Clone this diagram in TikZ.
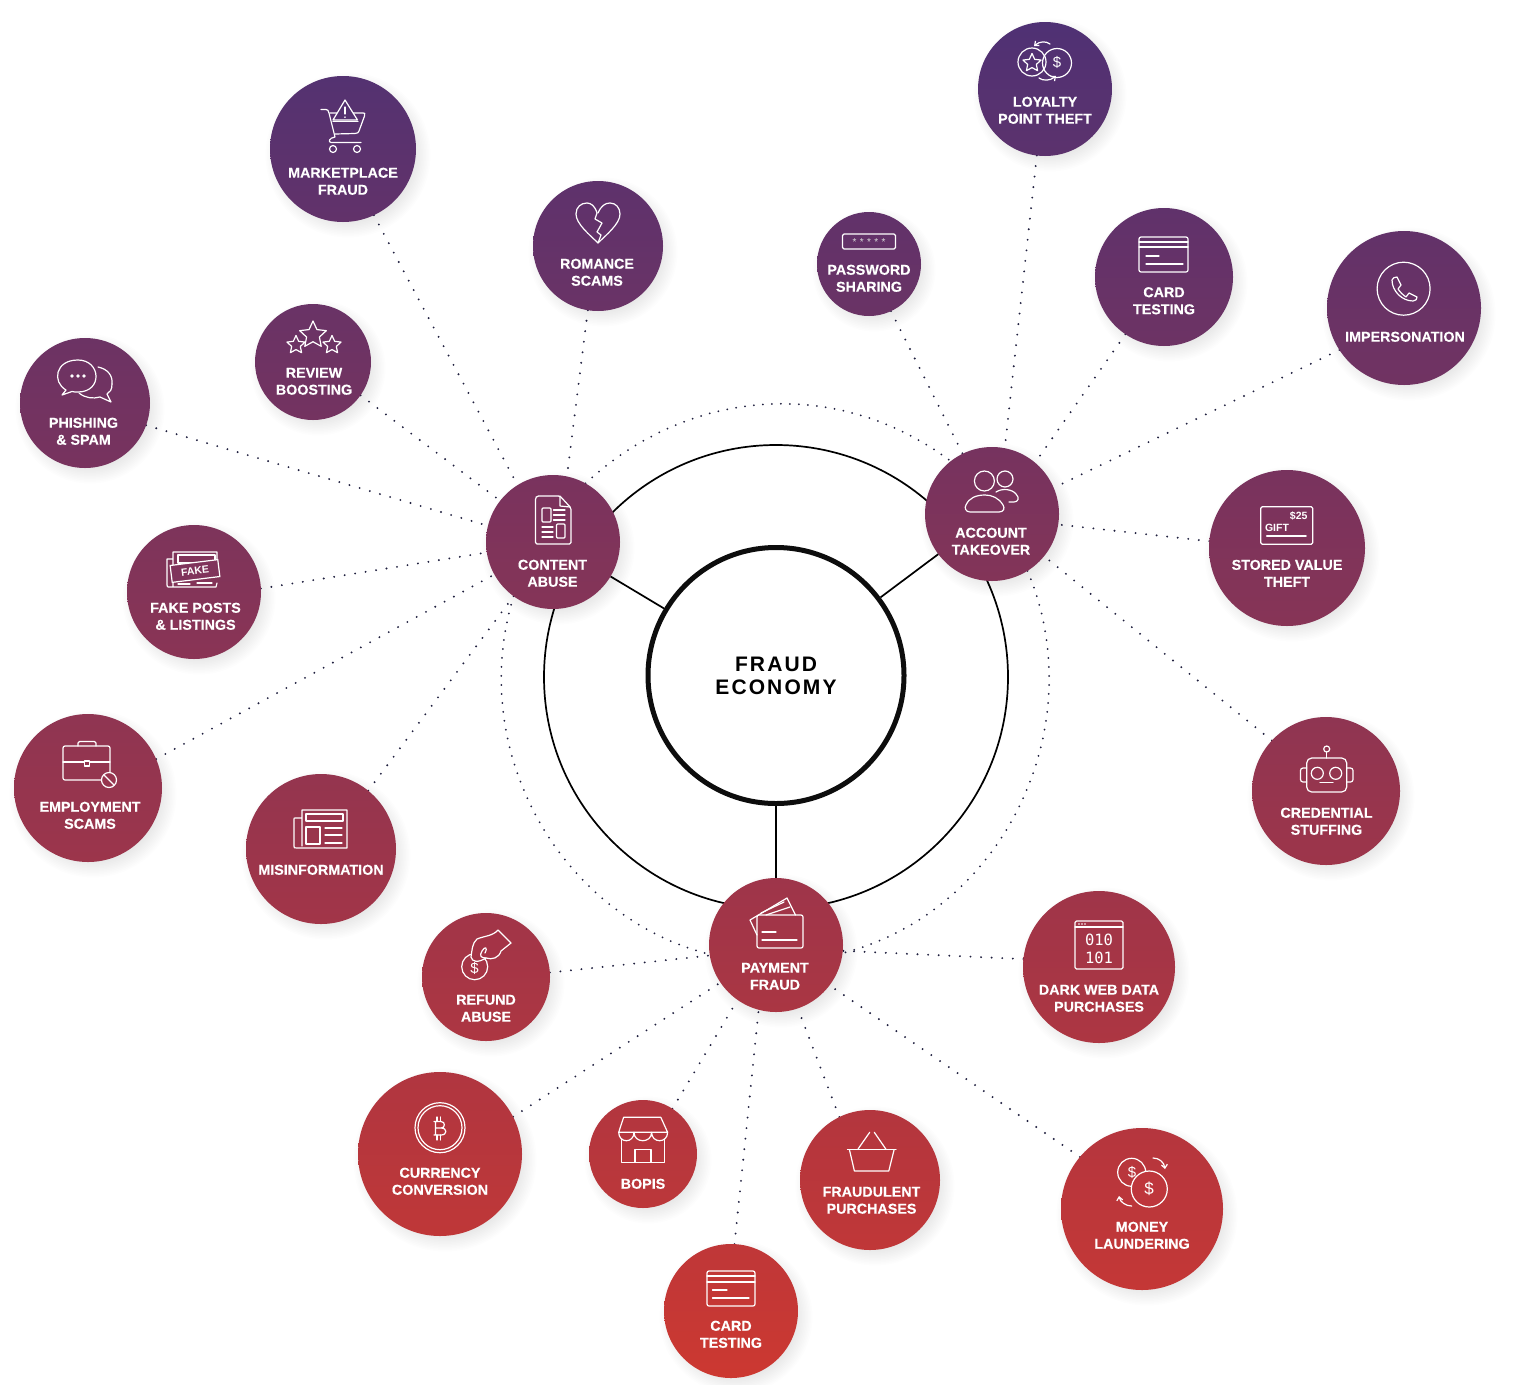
\documentclass[tikz,border=0pt]{standalone}
\usepackage{fontspec}
\setmainfont{Liberation Sans}
\newfontfamily\hubfont[LetterSpace=10]{Liberation Sans}
\newfontfamily\lblfont[UprightFont=* Bold,FakeBold=0.25]{Liberation Sans}
\newfontfamily\monofnt{DejaVu Sans Mono}
\usetikzlibrary{backgrounds,arrows.meta}
\definecolor{dotc}{HTML}{20203F}
\tikzset{
  bubble/.style={circle,inner sep=0pt,outer sep=0pt,shading=axis,shading angle=0},
  lbl/.style={text=white,align=center,inner sep=0pt,font=\lblfont\fontsize{14.3}{17}\selectfont},
  hubnode/.style={circle,draw=black!95,line width=5pt,fill=white,minimum size=256pt,inner sep=0pt,align=center,
     font=\hubfont\bfseries\fontsize{21}{23}\selectfont},
  dotline/.style={draw=dotc,line width=2.1pt,line cap=round,dash pattern=on 0pt off 10.6pt},
  dotarc/.style={draw=dotc,line width=2pt,line cap=round,dash pattern=on 0pt off 9pt},
  solidlink/.style={draw=black,line width=1.7pt},
  ic/.style={draw=white,line width=1.2pt,line join=round,line cap=round},
  icfill/.style={ic,fill=#1},
  dollar/.style={text=white,inner sep=0pt,font=\fontsize{15}{15}\selectfont},
  arrowic/.style={ic,-{Straight Barb[length=3.5pt,width=6pt]}},
}
\newcommand\bub[4]{%
  \pgfmathsetmacro\ttop{(#3-#4-25)/1350}%
  \pgfmathsetmacro\tbot{(#3+#4-25)/1350}%
  \pgfmathtruncatemacro\ra{80+124*\ttop}%
  \pgfmathtruncatemacro\ga{50+6*\ttop}%
  \pgfmathtruncatemacro\ba{116-66*\ttop}%
  \pgfmathtruncatemacro\rb{80+124*\tbot}%
  \pgfmathtruncatemacro\gb{50+6*\tbot}%
  \pgfmathtruncatemacro\bb{116-66*\tbot}%
  \definecolor{gtop}{RGB}{\ra,\ga,\ba}%
  \definecolor{gbot}{RGB}{\rb,\gb,\bb}%
  \foreach \i in {1,...,14}{\fill[black,opacity=.0095] ({#2+5},{#3+6}) circle[radius={(#4+11-1.5*\i)*1pt}];}%
  \node[bubble,minimum size={2pt*#4},top color=gtop,bottom color=gbot] (#1) at (#2,#3) {};%
}
\newcommand\icstar[3]{%
  \draw[ic] plot[samples at={0,...,9},variable=\k] ({#1+(mod(\k,2)==0?#3:#3*.48)*sin(36*\k)},{#2-(mod(\k,2)==0?#3:#3*.48)*cos(36*\k)}) -- cycle;%
}
\newcommand\dlink[4]{\draw[dotline] (#1.#2) -- (#3.#4);}
\newcommand\lab[4]{\node[lbl] (#1) at (#2,#3+.8) {#4};}
\begin{document}
\begin{tikzpicture}[x=1pt,y=-1pt]
\useasboundingbox (0,0) rectangle (1536,1384);
% bubbles
\node[hubnode] (hub) at (776,675.5) {FRAUD\\[0pt]ECONOMY};
\bub{mkt}{343}{149}{73}
\bub{rom}{598}{246}{65}
\bub{pwd}{869}{264}{52}
\bub{loy}{1045}{89}{67}
\bub{cardA}{1164}{277}{69}
\bub{imp}{1404}{308}{77}
\bub{rev}{313}{362}{58}
\bub{phi}{85}{403}{65}
\bub{fak}{194}{592}{67}
\bub{emp}{88}{788}{74}
\bub{mis}{321}{849}{75}
\bub{cnt}{553}{542}{67}
\bub{acc}{992}{514}{67}
\bub{sto}{1287}{548}{78}
\bub{cre}{1326}{791}{74}
\bub{pay}{776}{945}{67}
\bub{ref}{486}{977}{64}
\bub{dark}{1099}{967}{76}
\bub{cur}{440}{1154}{82}
\bub{bop}{643}{1154}{54}
\bub{fra}{870}{1180}{70}
\bub{cardB}{731}{1311}{67}
\bub{mon}{1142}{1209}{81}
% connectors
\begin{pgfonlayer}{background}
\fill[white] (0,0) rectangle (1536,1384);
\coordinate (ringc) at (776,677);
\draw[solidlink] (ringc) circle[radius=232pt];
\draw[solidlink] (hub) -- (cnt);
\draw[solidlink] (hub) -- (acc);
\draw[solidlink] (hub) -- (pay);
\draw[dotarc] (cnt.61) to[out=43,in=143,looseness=.987] (acc.128.5);
\draw[dotarc] (cnt.234) to[out=252.8,in=165.6,looseness=.99] (pay.188);
\draw[dotarc] (acc.-58) to[out=-67.1,in=14.4,looseness=1.01] (pay.-7.7);
\dlink{mkt}{-65.6}{cnt}{122}
\dlink{rom}{-99}{cnt}{78.7}
\dlink{rev}{-35}{cnt}{142}
\dlink{phi}{-20.7}{cnt}{166}
\dlink{fak}{3.4}{cnt}{189}
\dlink{emp}{23.3}{cnt}{209.7}
\dlink{mis}{51.4}{cnt}{234.7}
\dlink{pwd}{-65.2}{acc}{116.9}
\dlink{loy}{-97.6}{acc}{79.3}
\dlink{cardA}{-124}{acc}{50.9}
\dlink{imp}{-147.9}{acc}{23.1}
\dlink{sto}{175.7}{acc}{-9.2}
\dlink{cre}{137.6}{acc}{-39.4}
\dlink{ref}{4.2}{pay}{189.9}
\dlink{cur}{27.2}{pay}{214.1}
\dlink{bop}{57.6}{pay}{235.3}
\dlink{cardB}{87}{pay}{255.8}
\dlink{fra}{116.2}{pay}{-71.8}
\dlink{mon}{140}{pay}{-37.5}
\dlink{dark}{174}{pay}{-5.6}
\end{pgfonlayer}
% labels
\lab{mktT}{343}{180.5}{MARKETPLACE\\FRAUD}
\lab{romT}{597}{271.5}{ROMANCE\\SCAMS}
\lab{pwdT}{869}{277.5}{PASSWORD\\SHARING}
\lab{loyT}{1045}{109.5}{LOYALTY\\POINT THEFT}
\lab{cardAT}{1164}{300}{CARD\\TESTING}
\lab{impT}{1405}{336}{IMPERSONATION}
\lab{revT}{314}{380.5}{REVIEW\\BOOSTING}
\lab{phiT}{83.5}{430.5}{PHISHING\\\& SPAM}
\lab{fakT}{195.5}{615.5}{FAKE POSTS\\\& LISTINGS}
\lab{empT}{90}{814.5}{EMPLOYMENT\\SCAMS}
\lab{misT}{321}{869}{MISINFORMATION}
\lab{cntT}{552.5}{572.5}{CONTENT\\ABUSE}
\lab{accT}{991}{540.5}{ACCOUNT\\TAKEOVER}
\lab{stoT}{1287}{572.5}{STORED VALUE\\THEFT}
\lab{creT}{1326.5}{820.5}{CREDENTIAL\\STUFFING}
\lab{payT}{775}{975.5}{PAYMENT\\FRAUD}
\lab{refT}{486}{1007.5}{REFUND\\ABUSE}
\lab{darkT}{1099}{997.5}{DARK WEB DATA\\PURCHASES}
\lab{curT}{440}{1180.5}{CURRENCY\\CONVERSION}
\lab{bopT}{643}{1183}{BOPIS}
\lab{fraT}{871.5}{1199.5}{FRAUDULENT\\PURCHASES}
\lab{cardBT}{731}{1333.5}{CARD\\TESTING}
\lab{monT}{1142}{1234.5}{MONEY\\LAUNDERING}
% --- icons (absolute picture coordinates)
% cart
\draw[ic] (321,109.5) -- (326,109.5) .. controls (328,110) .. (329,113) -- (335,137) .. controls (329,138) and (328,142) .. (331,142.5) -- (361,142.5);
\draw[ic] (330,113) -- (363,113) .. controls (365,113) .. (364.5,116) -- (359,131) .. controls (358,133) .. (355,133.5) -- (335,134);
\draw[ic] (333,149) circle[radius=3.5pt] (357,149) circle[radius=3.5pt];
\definecolor{mkc}{RGB}{84,50,112}
\draw[icfill=mkc] (345,100) -- (357.5,120) -- (333,120) -- cycle;
\draw[ic] (345,107) -- (345,114) (345,117) -- (345,117.3);
\draw[ic] (333,121.5) -- (358,121.5);
% heart
\draw[ic] (598,243) .. controls (590,235) and (576,224) .. (576,214) .. controls (576,207) and (581,203) .. (587,203) .. controls (591,203) and (595,206) .. (597,213) -- (595,219) -- (602,223) -- (597,232) -- (601,235) -- (598,243);
\draw[ic] (598,213) .. controls (601,206) and (605,203) .. (610,203) .. controls (616,203) and (620,208) .. (620,214) .. controls (620,224) and (606,235) .. (598,243);
% password
\draw[ic,rounded corners=1.5pt] (842.5,234) rectangle (895.5,249);
\node[text=white!85!black,inner sep=0pt,font=\fontsize{10}{10}\selectfont] (pwdStars) at (869,241.8) {*\,\,*\,\,*\,\,*\,\,*};
% loyalty
\draw[ic] (1032,62) circle[radius=14pt];
\draw[ic] (1057,63) circle[radius=14.5pt];
\icstar{1032}{63}{9.5}
\node[dollar] (loyD) at (1057,62.5) {\$};
\draw[arrowic] (1050,44) .. controls (1046,41) and (1040,41) .. (1034,46);
\draw[arrowic] (1039,78) .. controls (1043,81) and (1050,81) .. (1056,76);
% card A
\draw[ic,rounded corners=2pt] (1139,237) rectangle (1188,272);
\draw[ic] (1139,242) -- (1188,242) (1139,247) -- (1188,247) (1146,256) -- (1159,256) (1146,264) -- (1183,264);
% impersonation
\draw[ic] (1403.6,288.7) circle[radius=26.5pt];
\draw[ic] (1392,280) .. controls (1392,278) and (1395,277) .. (1397,277) -- (1401,285) -- (1398,289) .. controls (1400,292) and (1403,295) .. (1406,297) -- (1409,293) -- (1417,297) .. controls (1417,299) and (1416,301) .. (1413,301) .. controls (1402,301) and (1392,291) .. (1392,280) -- cycle;
% review
\icstar{313}{335}{14}
\icstar{296}{345}{9.5}
\icstar{332}{345}{9.5}
% phishing
\draw[ic] (112,384) .. controls (113,376) and (108,369) .. (98,367);
\draw[ic] (112,384) .. controls (112,390) and (110,392) .. (107,394) -- (111,402) -- (100,397) .. controls (93,399) and (85,398) .. (79,393);
\draw[ic] (66,390) .. controls (52,382) and (55,360) .. (78,360) .. controls (101,360) and (103,392) .. (78,392) .. controls (75,392) and (74,392) .. (72,391.5) -- (62,395) -- cycle;
\fill[white] (72,376) circle[radius=1.8pt] (78,376) circle[radius=1.8pt] (84,376) circle[radius=1.8pt];
% fake
\draw[ic] (173,559) -- (167,559) -- (167,585) .. controls (167,587) .. (171,587) -- (216,587) -- (217,583) (217,563) -- (217,552) -- (173,552) -- (173,587);
\draw[ic] (178,555) rectangle (215,563);
\draw[ic] (178,584) -- (190,584) (197,583) -- (212,583);
\definecolor{fkc}{RGB}{128,52,92}
\node[draw=white,line width=1.2pt,fill=fkc,rotate=7,minimum width=48pt,minimum height=17pt,inner sep=0pt,text=white,font=\bfseries\fontsize{10.5}{10.5}\selectfont] (fakW) at (195,571) {FAKE};
% employment
\draw[ic,rounded corners=2pt] (63,746) rectangle (110,780);
\draw[ic,rounded corners=1.5pt] (78,746) -- (78,741.5) -- (96,741.5) -- (96,746);
\draw[ic] (63,762) -- (84.5,762) (89.5,762) -- (110,762);
\draw[ic] (84.5,761) rectangle (89.5,766);
\definecolor{emc}{RGB}{150,52,78}
\draw[icfill=emc] (109,780) circle[radius=7.5pt];
\draw[ic] (104,775) -- (114,785);
% misinformation
\draw[ic] (302,818) -- (295,818) .. controls (294,818) .. (294,820) -- (294,846) .. controls (294,848) .. (297,848) -- (347,848) -- (347,810) -- (302,810) -- (302,846);
\draw[ic] (306,814) rectangle (343,821);
\draw[ic] (306,827) rectangle (320,844);
\draw[ic] (325,828) -- (342,828) (325,835) -- (342,835) (325,843) -- (342,843);
% content
\draw[ic,rounded corners=1.5pt] (560,496) -- (537,496) -- (535.5,498) -- (535.5,544) -- (571,544) -- (571,508) -- cycle;
\draw[ic] (560,496) -- (560,506) -- (570,507);
\draw[ic,rounded corners=1pt] (542,508) rectangle (551,522);
\draw[ic] (553.5,510) -- (565,510) (553.5,515) -- (565,515) (553.5,520) -- (565,520);
\draw[ic] (542,527) -- (553,527) (542,532) -- (553,532) (542,537) -- (553,537);
\draw[ic,rounded corners=1pt] (556.5,524) rectangle (565,538);
% account
\draw[ic] (984.4,481) circle[radius=10pt];
\draw[ic] (1005,479) circle[radius=8pt];
\draw[ic] (970,512) -- (999,512) .. controls (1004,512) and (1005,508) .. (1003,505) .. controls (999,498) and (992,495) .. (985,495) .. controls (976,495) and (969,498) .. (966,505) .. controls (964,508) and (966,512) .. (970,512) -- cycle;
\draw[ic] (996,492) .. controls (1002,488) and (1012,489) .. (1016,494) .. controls (1020,498) and (1018,502) .. (1014,502) -- (1009,502);
% stored
\draw[ic,rounded corners=1.5pt] (1260.7,506.7) rectangle (1312.7,544.3);
\node[text=white,inner sep=0pt,font=\bfseries\fontsize{10.5}{10.5}\selectfont] (stoAmt) at (1298.7,516) {\$25};
\node[text=white,inner sep=0pt,font=\bfseries\fontsize{10.5}{10.5}\selectfont] (stoGift) at (1277,528) {GIFT};
\draw[ic,line width=1.6pt] (1266.7,536) -- (1306,536);
% robot
\draw[ic] (1326.7,749) circle[radius=3pt];
\draw[ic] (1326.7,752) -- (1326.7,758);
\draw[ic,rounded corners=5pt] (1306.7,758) rectangle (1346.7,792);
\draw[ic,rounded corners=2.5pt] (1306.7,768) -- (1300.5,768) -- (1300.5,782) -- (1306.7,782);
\draw[ic,rounded corners=2.5pt] (1346.7,768) -- (1353,768) -- (1353,782) -- (1346.7,782);
\draw[ic] (1317.3,773.3) circle[radius=6pt] (1335.7,773.3) circle[radius=6pt];
\draw[ic] (1320,782.7) -- (1333,782.7);
% refund
\draw[ic] (474.7,966.7) circle[radius=13pt];
\node[dollar] (refD) at (474.5,968) {\$};
\definecolor{rfc}{RGB}{164,51,70}
\draw[icfill=rfc] (498,930) .. controls (493,936) and (484,936) .. (477,939) .. controls (472,943) and (472,951) .. (471,957) .. controls (472,962) and (478,963) .. (486,958) .. controls (492,960) and (499,958) .. (501,951) -- (511,943) -- cycle;
\draw[ic] (486,958) .. controls (481,958) and (479,956) .. (482,951) .. controls (485,946) and (488,947) .. (485,953);
% payment
\draw[ic] (757,935) -- (750,920) -- (787,898) -- (795.5,915);
\draw[ic] (761,913) -- (784,902) (766,915) -- (790,907);
\draw[ic,rounded corners=2pt] (757,915) rectangle (803,948);
\draw[ic] (762,932) -- (776,932) (762,940) -- (797,940);
% dark web
\draw[ic,rounded corners=1.5pt] (1075,921) rectangle (1123,969);
\draw[ic] (1075,927) -- (1123,927);
\fill[white] (1079,924) circle[radius=.8pt] (1082,924) circle[radius=.8pt] (1085,924) circle[radius=.8pt];
\node[text=white,inner sep=0pt,align=center,font=\monofnt\fontsize{15.5}{17.5}\selectfont] (darkBin) at (1099,949) {010\\101};
% currency
\draw[ic] (440,1127.7) circle[radius=25pt] (440,1127.7) circle[radius=22pt];
\draw[ic] (434,1121.5) -- (441,1121.5) .. controls (445.5,1121.5) and (445.5,1128) .. (441,1128) -- (435.5,1128) (441,1128) .. controls (447.5,1128) and (447.5,1135) .. (441,1135) -- (434,1135) (435.5,1121.5) -- (435.5,1135);
\draw[ic] (437,1117) -- (437,1121.5) (440.5,1117) -- (440.5,1121.5) (437,1135) -- (437,1140) (440.5,1135) -- (440.5,1140);
% bopis
\draw[ic] (623.6,1117.3) -- (660.8,1117.3) -- (667.6,1132.3) -- (618.7,1132.3) -- cycle;
\draw[ic] (618.7,1132.3) .. controls (618.7,1143.5) and (634,1143.5) .. (634,1132.3) .. controls (634,1143.5) and (651.6,1143.5) .. (651.6,1132.3) .. controls (651.6,1143.5) and (667.6,1143.5) .. (667.6,1132.3);
\draw[ic] (621.7,1139) -- (621.7,1162.3) -- (664.6,1162.3) -- (664.6,1139);
\draw[ic] (635,1162.3) -- (635,1149.3) -- (651,1149.3) -- (651,1162.3);
% basket
\draw[ic] (847.5,1149.3) -- (896,1149.3);
\draw[ic] (849.5,1150) -- (854.4,1171) -- (888.8,1171) -- (894,1150);
\draw[ic] (858,1149) -- (869.7,1132.3) (874.3,1132.3) -- (885.8,1149);
% card B
\draw[ic,rounded corners=2pt] (707,1271) rectangle (755,1306);
\draw[ic] (707,1276) -- (755,1276) (707,1282) -- (755,1282) (712.5,1290) -- (727,1290) (712.5,1298) -- (749,1298);
% money
\draw[ic] (1131.7,1172.3) circle[radius=14pt];
\node[dollar] (monA) at (1132,1172.5) {\$};
\definecolor{mnc}{RGB}{190,54,60}
\draw[icfill=mnc] (1149.3,1189) circle[radius=18pt];
\node[dollar,font=\fontsize{17}{17}\selectfont] (monB) at (1149,1189) {\$};
\draw[arrowic] (1153,1158) .. controls (1159,1158) and (1164,1162) .. (1165,1169);
\draw[arrowic] (1131.7,1206) .. controls (1126,1206) and (1120,1202) .. (1119,1196);
\end{tikzpicture}
\end{document}
